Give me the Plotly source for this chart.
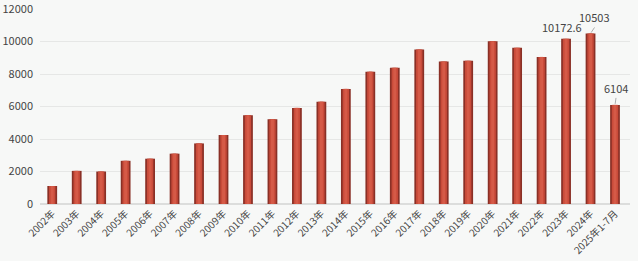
import plotly.graph_objects as go

categories = ["2002年", "2003年", "2004年", "2005年", "2006年", "2007年", "2008年", "2009年",
              "2010年", "2011年", "2012年", "2013年", "2014年", "2015年", "2016年", "2017年",
              "2018年", "2019年", "2020年", "2021年", "2022年", "2023年", "2024年", "2025年1-7月"]
values = [1110, 2040, 2000, 2660, 2790, 3100, 3730, 4250,
          5470, 5220, 5920, 6300, 7090, 8150, 8390, 9520,
          8770, 8820, 10020, 9620, 9060, 10172.6, 10503, 6104]
y_ticks = [0, 2000, 4000, 6000, 8000, 10000, 12000]
y_tick_labels = ["0", "2000", "4000", "6000", "8000", "10000", "12000"]
labeled = {"2023年": "10172.6", "2024年": "10503", "2025年1-7月": "6104"}

fig = go.Figure()
fig.add_trace(go.Bar(x=categories, y=values, width=0.4,
                     marker=dict(color="#8a3026", line=dict(width=0)), hoverinfo="skip"))
fig.add_trace(go.Bar(x=categories, y=values, width=0.26,
                     marker=dict(color="#c94b3a", line=dict(width=0))))
fig.add_trace(go.Bar(x=categories, y=values, width=0.12,
                     marker=dict(color="#d55a47", line=dict(width=0)), hoverinfo="skip"))

for cat, txt in labeled.items():
    v = values[categories.index(cat)]
    if cat == "2023年":
        fig.add_annotation(x=cat, y=v, text=txt, showarrow=False, yanchor="bottom",
                           xshift=-4, yshift=2, font=dict(size=11, color="#444"))
    else:
        ax, ay = (4, -6) if cat == "2024年" else (1, -7)
        fig.add_annotation(x=cat, y=v, text=txt, showarrow=True, arrowhead=0, arrowwidth=0.8,
                           arrowcolor="#999", ax=ax, ay=ay, standoff=1,
                           xanchor="center", yanchor="bottom", font=dict(size=11, color="#444"))

fig.update_layout(
    width=638, height=261, barmode="overlay", showlegend=False,
    margin=dict(l=40, r=8, t=9, b=57, autoexpand=False),
    paper_bgcolor="#f7f8f7", plot_bgcolor="#f7f8f7",
    font=dict(family="Noto Sans CJK SC, sans-serif", size=11, color="#444"),
    xaxis=dict(tickangle=-45, tickfont=dict(size=10, color="#444"), showgrid=False,
               ticks="", showline=False, automargin=False, ticklabelstandoff=1),
    yaxis=dict(range=[0, 12010], tickvals=y_ticks, ticktext=y_tick_labels,
               gridcolor="#e6e7e6", gridwidth=1, automargin=False,
               zeroline=True, zerolinecolor="#dcdddc", zerolinewidth=2,
               tickfont=dict(size=11, color="#444"), ticks="", ticklabelstandoff=6),
)
fig.write_html("out.html")
